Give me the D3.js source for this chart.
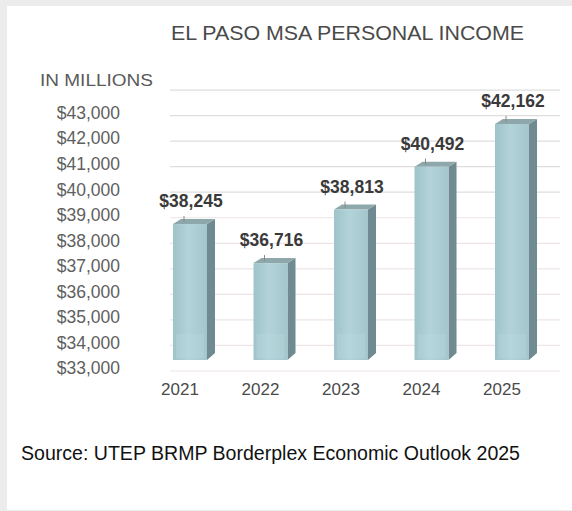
<!DOCTYPE html>
<html>
<head>
<meta charset="utf-8">
<script src="https://cdn.jsdelivr.net/npm/d3@7"></script>
<style>
  body { margin: 0; background: #ececec; }
  svg { display: block; font-family: "Liberation Sans", Arial, sans-serif; }
</style>
</head>
<body>
<div id="chart"></div>
<script>
// Chart data
var years = ["2021", "2022", "2023", "2024", "2025"];
var income = [38245, 36716, 38813, 40492, 42162];
var tickValues = [33000, 34000, 35000, 36000, 37000, 38000, 39000, 40000, 41000, 42000, 43000];
var gridValues = [33000, 34000, 35000, 36000, 37000, 38000, 39000, 40000, 41000, 42000, 43000, 44000];

var width = 572;
var height = 511;

// 3D look of the bars
var barWidth = 34;
var depthX = 8;
var depthY = 5;

var svg = d3.select("#chart")
  .append("svg")
  .attr("width", width)
  .attr("height", height);

// white panel with a grey frame on top and left
svg.append("rect")
  .attr("x", 7).attr("y", 6)
  .attr("width", width - 7).attr("height", height - 7)
  .attr("fill", "#ffffff");

// scales
var y = d3.scaleLinear().domain([33000, 43000]).range([358, 102.6]);
var x = d3.scalePoint().domain(years).range([190, 512]);

var fmt = function(v) { return "$" + d3.format(",")(v); };

// gridlines on the back wall
svg.append("g")
  .selectAll("line")
  .data(gridValues)
  .enter()
  .append("line")
  .attr("x1", 170)
  .attr("x2", 560)
  .attr("y1", function(d) { return y(d) + 13; })
  .attr("y2", function(d) { return y(d) + 13; })
  .attr("stroke", function(d) { return d < 40000 ? "#eee4e6" : "#dedede"; })
  .attr("stroke-width", 1.2);

// title
svg.append("text")
  .attr("x", 171)
  .attr("y", 40)
  .attr("font-size", 21)
  .attr("fill", "#4a4a4a")
  .attr("textLength", 353)
  .attr("lengthAdjust", "spacingAndGlyphs")
  .text("EL PASO MSA PERSONAL INCOME");

svg.append("text")
  .attr("x", 40)
  .attr("y", 86)
  .attr("font-size", 16)
  .attr("fill", "#5a5a5a")
  .attr("textLength", 113)
  .attr("lengthAdjust", "spacingAndGlyphs")
  .text("IN MILLIONS");

// y axis labels (front edge of the floor sits a little lower)
svg.append("g")
  .selectAll("text")
  .data(tickValues)
  .enter()
  .append("text")
  .attr("x", 120)
  .attr("y", function(d) { return y(d) + 10; })
  .attr("dy", "0.36em")
  .attr("text-anchor", "end")
  .attr("font-size", 17.5)
  .attr("fill", "#606060")
  .text(fmt);

// bars
var bars = svg.append("g")
  .selectAll("g")
  .data(years)
  .enter()
  .append("g");

var defs = svg.append("defs");
var grad = defs.append("linearGradient").attr("id", "front")
  .attr("x1", 0).attr("x2", 1).attr("y1", 0).attr("y2", 0);
grad.append("stop").attr("offset", "0%").attr("stop-color", "#9fc3ca");
grad.append("stop").attr("offset", "45%").attr("stop-color", "#b2d3d9");
grad.append("stop").attr("offset", "100%").attr("stop-color", "#a3c6cc");

var base = y(33000);

// side face
bars.append("path")
  .attr("d", function(d, i) {
    var x0 = x(d) + barWidth / 2;
    var top = y(income[i]);
    return "M" + x0 + "," + top +
      "L" + (x0 + depthX) + "," + (top - depthY) +
      "L" + (x0 + depthX) + "," + (base - depthY) +
      "L" + x0 + "," + (base + 2) + "Z";
  })
  .attr("fill", "#6f8a90");

// top face
bars.append("path")
  .attr("d", function(d, i) {
    var x0 = x(d) - barWidth / 2;
    var top = y(income[i]);
    return "M" + x0 + "," + top +
      "L" + (x0 + depthX) + "," + (top - depthY) +
      "L" + (x0 + barWidth + depthX) + "," + (top - depthY) +
      "L" + (x0 + barWidth) + "," + top + "Z";
  })
  .attr("fill", "#8ea7ab");

// front face
bars.append("rect")
  .attr("x", function(d) { return x(d) - barWidth / 2; })
  .attr("y", function(d, i) { return y(income[i]); })
  .attr("width", barWidth)
  .attr("height", function(d, i) { return base + 2 - y(income[i]); })
  .attr("fill", "url(#front)");

// lighter band near the floor
bars.append("rect")
  .attr("x", function(d) { return x(d) - barWidth / 2 + 3; })
  .attr("y", base - 24)
  .attr("width", barWidth - 6)
  .attr("height", 24)
  .attr("fill", "#bfe0e5")
  .attr("opacity", 0.25);

// leader ticks and value labels
bars.append("line")
  .attr("x1", function(d) { return x(d) - 6; })
  .attr("x2", function(d) { return x(d) - 6; })
  .attr("y1", function(d, i) { return y(income[i]) - 2; })
  .attr("y2", function(d, i) { return y(income[i]) - 8; })
  .attr("stroke", "#888")
  .attr("stroke-width", 1);

bars.append("text")
  .attr("x", function(d) { return x(d) + 1; })
  .attr("y", function(d, i) { return y(income[i]) - 23; })
  .attr("dy", "0.36em")
  .attr("text-anchor", "middle")
  .attr("font-size", 17.5)
  .attr("font-weight", "bold")
  .attr("fill", "#3a3a3a")
  .text(function(d, i) { return fmt(income[i]); });

// category labels
svg.append("g")
  .selectAll("text")
  .data(years)
  .enter()
  .append("text")
  .attr("x", function(d) { return x(d) - 10; })
  .attr("y", 395)
  .attr("text-anchor", "middle")
  .attr("font-size", 17)
  .attr("fill", "#4a4a4a")
  .text(function(d) { return d; });

// source note
svg.append("text")
  .attr("x", 21)
  .attr("y", 460)
  .attr("font-size", 20)
  .attr("fill", "#111")
  .attr("textLength", 499)
  .attr("lengthAdjust", "spacingAndGlyphs")
  .text("Source: UTEP BRMP Borderplex Economic Outlook 2025");
</script>
</body>
</html>
